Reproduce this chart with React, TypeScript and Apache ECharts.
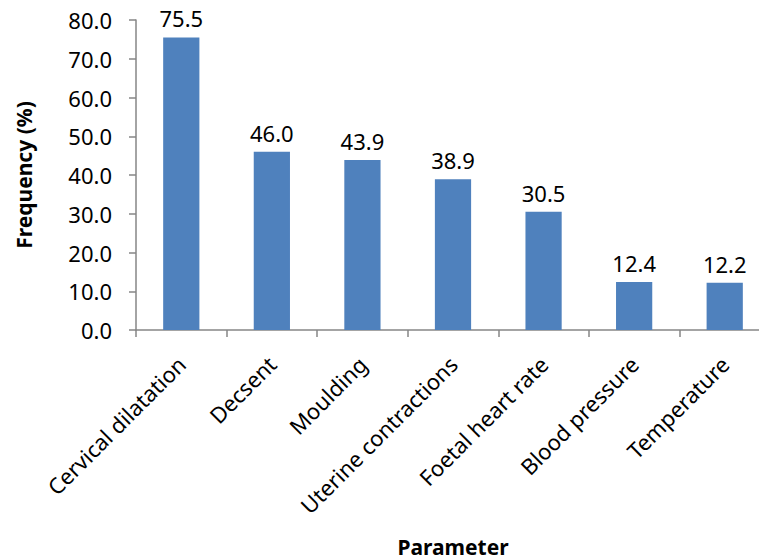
import React, { useEffect, useRef } from "react";
import * as echarts from "echarts";

const categories = [
  "Cervical dilatation",
  "Decsent",
  "Moulding",
  "Uterine contractions",
  "Foetal heart rate",
  "Blood pressure",
  "Temperature",
];
const frequency = [75.5, 46.0, 43.9, 38.9, 30.5, 12.4, 12.2];
const yMin = 0;
const yMax = 80;
const yInterval = 10;

const FONT = "'Noto Sans', 'Open Sans', sans-serif";

export default function App() {
  const ref = useRef<HTMLDivElement>(null);
  useEffect(() => {
    if (!ref.current) return;
    const chart = echarts.init(ref.current, null, { renderer: "svg" });
    chart.setOption({
      animation: false,
      textStyle: { fontFamily: FONT },
      grid: { left: 136, top: 20, width: 634, height: 310, containLabel: false, outerBoundsMode: "none" },
      xAxis: {
        type: "category",
        data: categories,
        name: "Parameter",
        nameLocation: "middle",
        nameGap: 206,
        nameTextStyle: { fontSize: 21, fontWeight: "bold", color: "#000", fontFamily: FONT },
        axisLine: { lineStyle: { color: "#868686", width: 1.5 } },
        axisTick: { show: true, length: 7, alignWithLabel: false, lineStyle: { color: "#868686", width: 1.5 } },
        axisLabel: {
          rotate: 45,
          interval: 0,
          margin: 30,
          fontSize: 22,
          color: "#000",
          fontFamily: FONT,
        },
      },
      yAxis: {
        type: "value",
        min: yMin,
        max: yMax,
        interval: yInterval,
        name: "Frequency (%)",
        nameLocation: "middle",
        nameGap: 102,
        nameTextStyle: { fontSize: 21, fontWeight: "bold", color: "#000", fontFamily: FONT },
        splitLine: { show: false },
        axisLine: { show: true, lineStyle: { color: "#868686", width: 1.5 } },
        axisTick: { show: true, length: 7, lineStyle: { color: "#868686", width: 1.5 } },
        axisLabel: {
          margin: 24,
          fontSize: 22,
          color: "#000",
          fontFamily: FONT,
          formatter: (v: number) => v.toFixed(1),
        },
      },
      series: [
        {
          type: "bar",
          data: frequency,
          barWidth: "40%",
          itemStyle: { color: "#4F81BD" },
          label: {
            show: true,
            position: "top",
            distance: 8,
            fontSize: 22,
            color: "#000",
            fontFamily: FONT,
            formatter: (p: any) => Number(p.value).toFixed(1),
          },
        },
      ],
    });
    return () => chart.dispose();
  }, []);
  return <div ref={ref} style={{ width: 759, height: 560, position: "absolute", left: 0, top: 0 }} />;
}
